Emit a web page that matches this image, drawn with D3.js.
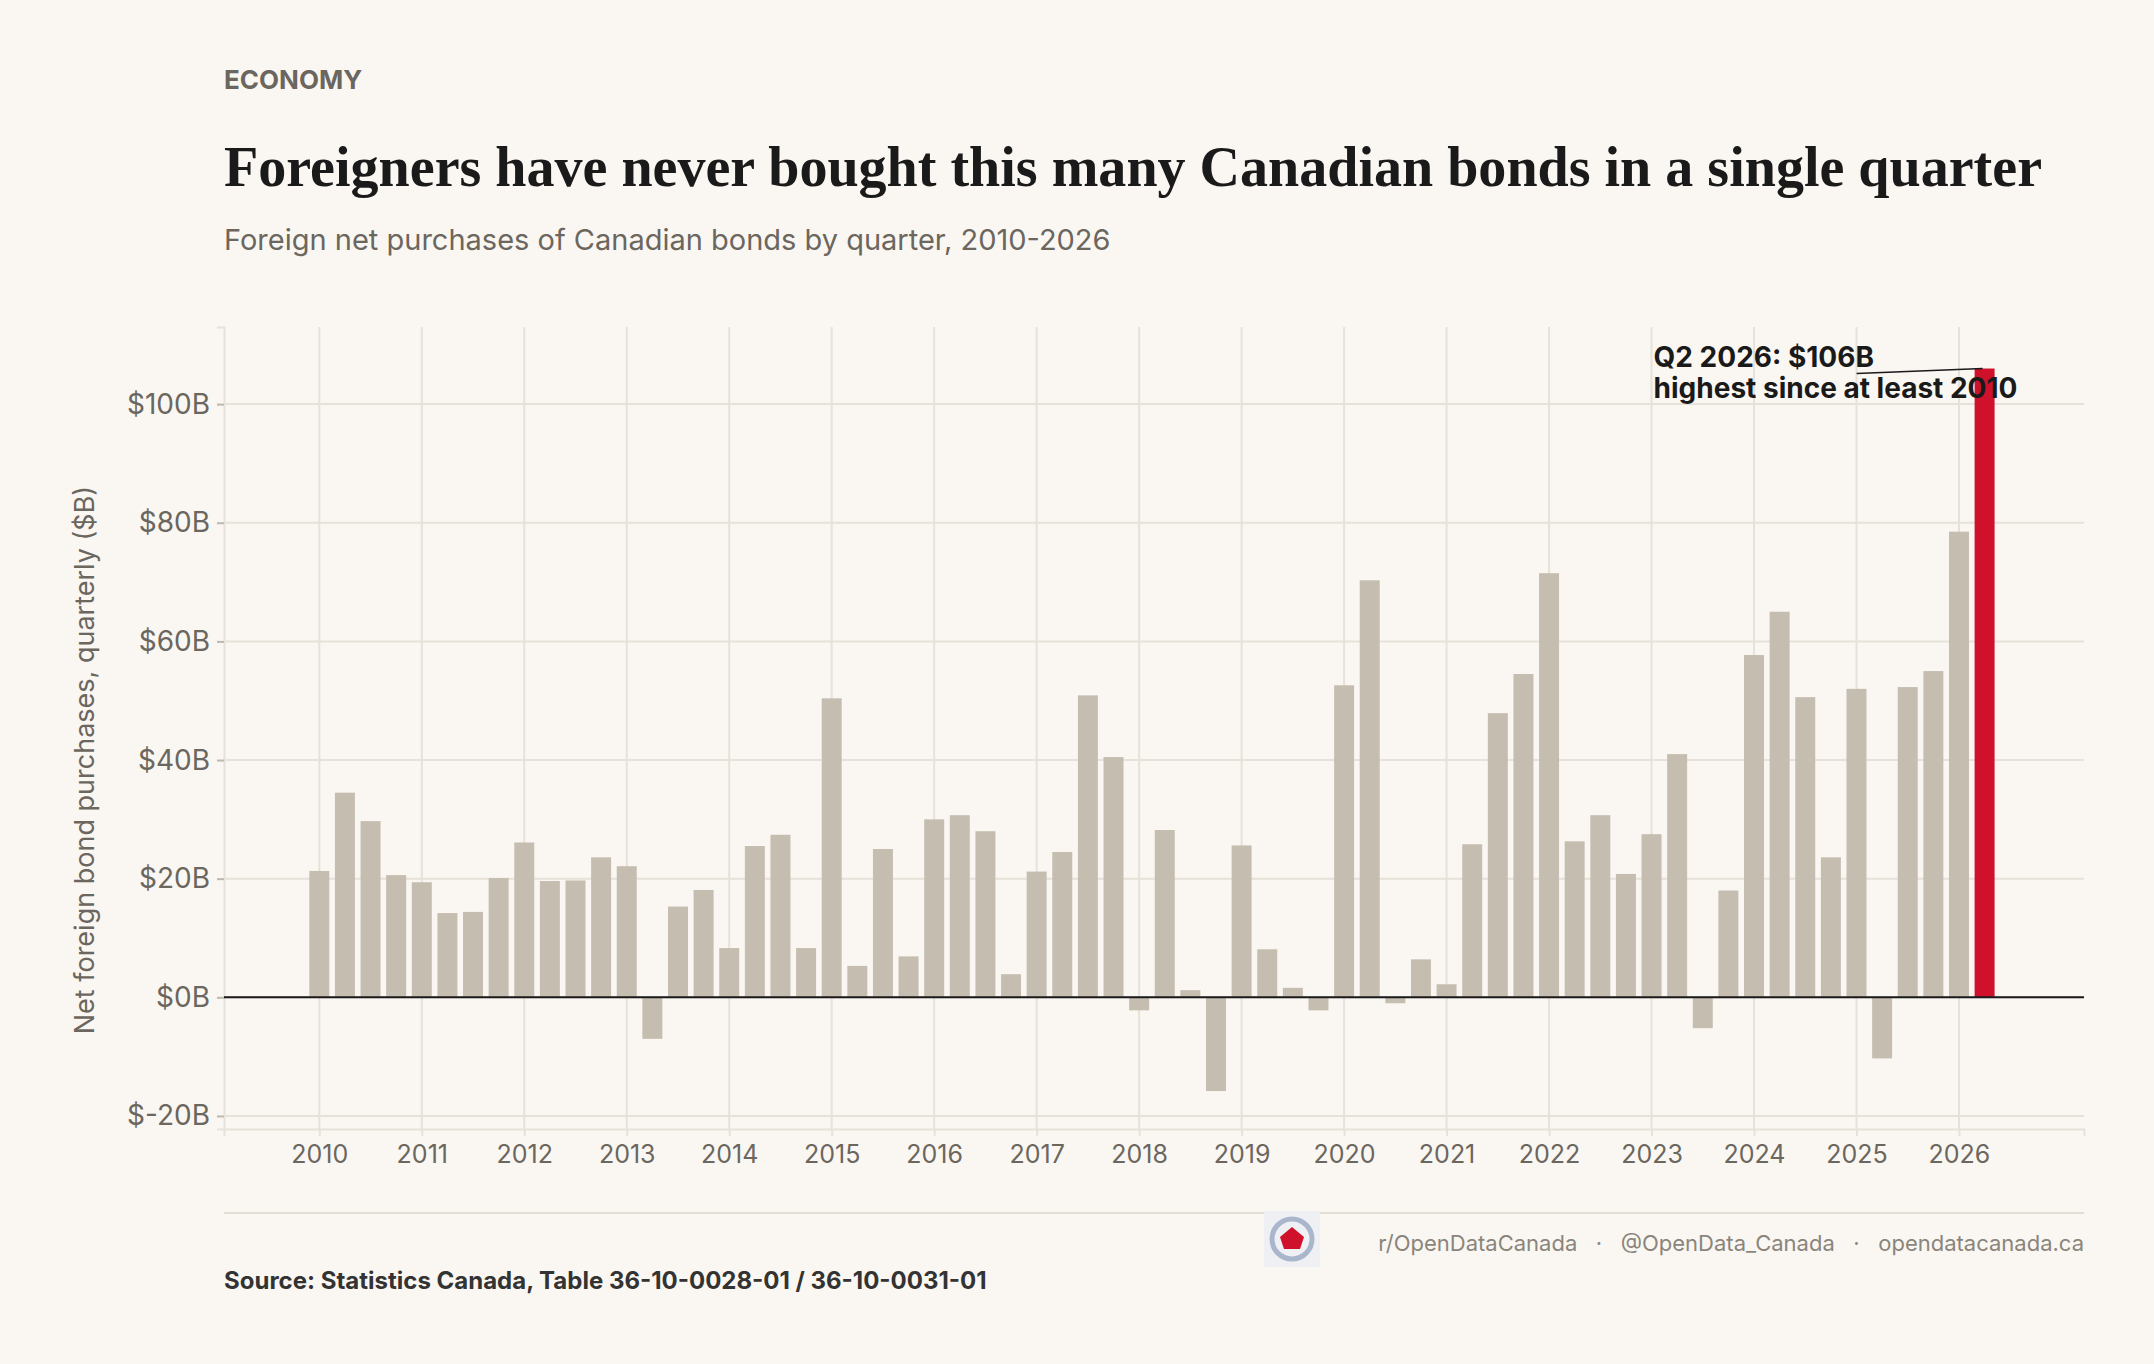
<!DOCTYPE html>
<html>
<head>
<meta charset="utf-8">
<script src="https://cdn.jsdelivr.net/npm/d3@7"></script>
<style>
  body { margin: 0; background: #faf7f2; }
  text { font-family: Inter, "Noto Sans", sans-serif; }
</style>
</head>
<body>
<div class="chart"></div>
<script>
// quarterly values, 2010 Q1 .. 2026 Q2, $B
var years = d3.range(2010, 2027);
var values = [
  21.3, 34.5, 29.7, 20.6,
  19.4, 14.2, 14.4, 20.1,
  26.1, 19.6, 19.7, 23.6,
  22.1, -7.0, 15.3, 18.1,
  8.3, 25.5, 27.4, 8.3,
  50.4, 5.3, 25.0, 6.9,
  30.0, 30.7, 28.0, 3.9,
  21.2, 24.5, 50.9, 40.5,
  -2.2, 28.2, 1.2, -15.8,
  25.6, 8.1, 1.6, -2.2,
  52.6, 70.3, -1.0, 6.4,
  2.2, 25.8, 47.9, 54.5,
  71.5, 26.3, 30.7, 20.8,
  27.5, 41.0, -5.2, 18.0,
  57.7, 65.0, 50.6, 23.6,
  52.0, -10.3, 52.3, 55.0,
  78.5, 106.0
];
var yTicks = [-20, 0, 20, 40, 60, 80, 100];
var credits = ["r/OpenDataCanada", "@OpenData_Canada", "opendatacanada.ca"];

var data = values.map((v, i) => ({ t: 2010 + i / 4, v: v, last: i === values.length - 1 }));

var W = 2154, H = 1364;
var margin = { top: 327, right: 70, bottom: 235, left: 224 };
var width = W - margin.left - margin.right;
var height = H - margin.top - margin.bottom;

var root = d3.select(".chart").append("svg").attr("width", W).attr("height", H);
root.append("rect").attr("width", W).attr("height", H).attr("fill", "#faf7f2");

root.append("text").attr("x", 224).attr("y", 89).text("ECONOMY")
  .attr("font-size", 26).attr("font-weight", 700).attr("fill", "#6b665e");
root.append("text").attr("x", 224).attr("y", 186)
  .text("Foreigners have never bought this many Canadian bonds in a single quarter")
  .attr("font-size", 56).attr("font-weight", 700).attr("fill", "#1a1a1a")
  .attr("textLength", 1818).attr("lengthAdjust", "spacingAndGlyphs")
  .style("font-family", "'Liberation Serif', serif");
root.append("text").attr("x", 224).attr("y", 250)
  .text("Foreign net purchases of Canadian bonds by quarter, 2010-2026")
  .attr("font-size", 29).attr("fill", "#6b665e");

var svg = root.append("g").attr("transform", `translate(${margin.left}, ${margin.top})`);

var x = d3.scaleLinear().domain([2009.07, 2027.22]).range([0, width]);
var y = d3.scaleLinear().domain([-22.2, 113]).range([height, 0]);
var barW = (x(2010.25) - x(2010)) * 0.78;

// grid
svg.append("g").selectAll("line").data(years).join("line")
  .attr("x1", d => x(d)).attr("x2", d => x(d)).attr("y1", 0).attr("y2", height)
  .attr("stroke", "#e6e2d9").attr("stroke-width", 2);
svg.append("g").selectAll("line").data(yTicks).join("line")
  .attr("x1", 0).attr("x2", width).attr("y1", d => y(d)).attr("y2", d => y(d))
  .attr("stroke", "#e6e2d9").attr("stroke-width", 2);

// axes
var yAxis = svg.append("g").call(d3.axisLeft(y).tickValues(yTicks).tickSize(7).tickPadding(7)
  .tickFormat(d => "$" + d + "B"));
var xAxis = svg.append("g").attr("transform", `translate(0, ${height})`)
  .call(d3.axisBottom(x).tickValues(years).tickSize(7).tickPadding(9).tickFormat(d3.format("d")));
[yAxis, xAxis].forEach(a => {
  a.select(".domain").attr("stroke", "#e6e2d9").attr("stroke-width", 2);
  a.selectAll(".tick line").attr("stroke", "#bdb8ae").attr("stroke-width", 2);
  a.selectAll("text").attr("font-family", "Inter, sans-serif").attr("fill", "#6b665e");
});
yAxis.selectAll("text").attr("font-size", 28);
xAxis.selectAll("text").attr("font-size", 25);
xAxis.selectAll(".tick line").attr("stroke", "#e6e2d9");

// bars
svg.append("g").selectAll("rect").data(data).join("rect")
  .attr("x", d => x(d.t) - barW / 2)
  .attr("width", barW)
  .attr("y", d => y(Math.max(0, d.v)))
  .attr("height", d => Math.abs(y(d.v) - y(0)))
  .attr("fill", d => d.last ? "#d0112b" : "#c5bdb0");

svg.append("line").attr("x1", 0).attr("x2", width).attr("y1", y(0)).attr("y2", y(0))
  .attr("stroke", "#1a1a1a").attr("stroke-width", 2);

// annotation
var last = data[data.length - 1];
svg.append("line").attr("x1", x(last.t) - 128).attr("y1", y(last.v) + 5)
  .attr("x2", x(last.t) - 2).attr("y2", y(last.v))
  .attr("stroke", "#1a1a1a").attr("stroke-width", 1.5);
var ax = x(last.t) - 331;
var ann = svg.append("text").attr("x", ax).attr("y", y(last.v) - 2)
  .attr("font-size", 28).attr("font-weight", 700).attr("fill", "#1a1a1a");
ann.append("tspan").text("Q2 2026: $" + last.v + "B");
ann.append("tspan").attr("x", ax).attr("dy", 31).text("highest since at least 2010");

// y label
root.append("text").attr("transform", `translate(94, ${margin.top + y(40)}) rotate(-90)`)
  .attr("text-anchor", "middle").attr("font-size", 27).attr("fill", "#6b665e")
  .text("Net foreign bond purchases, quarterly ($B)");

// footer
root.append("line").attr("x1", 224).attr("x2", 2084).attr("y1", 1213).attr("y2", 1213)
  .attr("stroke", "#e2ded5").attr("stroke-width", 2);
root.append("text").attr("x", 224).attr("y", 1289).attr("font-size", 24).attr("font-weight", 700)
  .attr("fill", "#333").text("Source: Statistics Canada, Table 36-10-0028-01 / 36-10-0031-01");
root.append("text").attr("x", 2084).attr("y", 1251).attr("text-anchor", "end").attr("font-size", 22)
  .attr("fill", "#8a857c").attr("xml:space", "preserve").text(credits.join("   ·   "));
var logo = root.append("g").attr("transform", "translate(1292, 1239)");
logo.append("rect").attr("x", -28).attr("y", -28).attr("width", 56).attr("height", 56).attr("fill", "#eef0f4");
logo.append("circle").attr("r", 20).attr("fill", "none").attr("stroke", "#a9b6cc").attr("stroke-width", 5);
logo.append("path").attr("d", "M-12,-2 L0,-12 L12,-2 L8,10 L-8,10 Z").attr("fill", "#d0112b");
</script>
</body>
</html>
